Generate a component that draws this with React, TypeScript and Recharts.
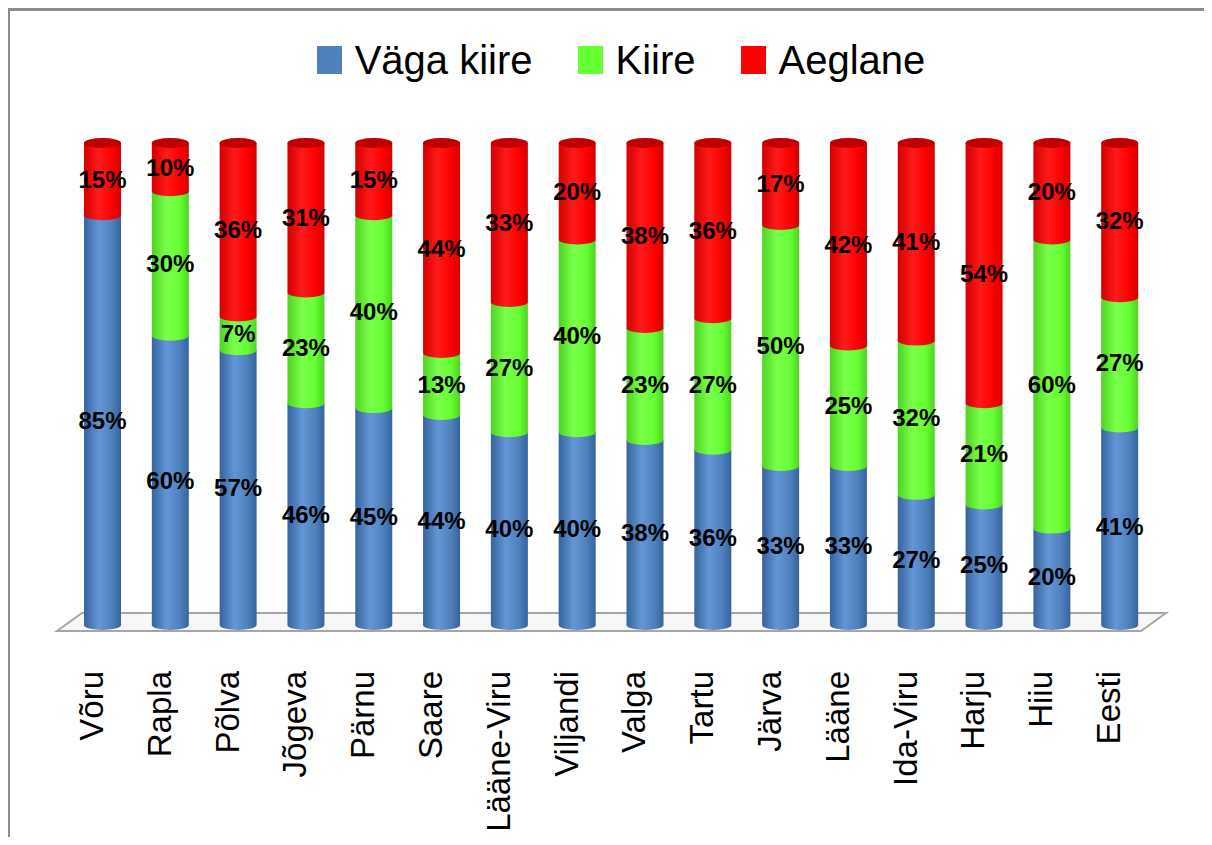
import React from 'react';
import { BarChart, Bar, XAxis, YAxis, Legend, LabelList, usePlotArea } from 'recharts';

const counties = [
  'Võru', 'Rapla', 'Põlva', 'Jõgeva', 'Pärnu', 'Saare', 'Lääne-Viru', 'Viljandi',
  'Valga', 'Tartu', 'Järva', 'Lääne', 'Ida-Viru', 'Harju', 'Hiiu', 'Eesti',
];
const vagaKiire = [85, 60, 57, 46, 45, 44, 40, 40, 38, 36, 33, 33, 27, 25, 20, 41];
const kiire = [0, 30, 7, 23, 40, 13, 27, 40, 23, 27, 50, 25, 32, 21, 60, 27];
const aeglane = [15, 10, 36, 31, 15, 44, 33, 20, 38, 36, 17, 42, 41, 54, 20, 32];

const seriesInfo = [
  { key: 'vagaKiire', name: 'Väga kiire', color: '#4F81BD', dark: '#35649e', light: '#6396d6' },
  { key: 'kiire', name: 'Kiire', color: '#66FF33', dark: '#4ed322', light: '#7aff4a' },
  { key: 'aeglane', name: 'Aeglane', color: '#FF0000', dark: '#d40000', light: '#ff1a1a' },
];

const data = counties.map((name, i) => ({
  name,
  vagaKiire: vagaKiire[i],
  kiire: kiire[i],
  aeglane: aeglane[i],
}));

const FONT = '"Liberation Sans", Arial, sans-serif';

const cylinder = (gradId: string, isTop: boolean, capColor: string) => (props: any) => {
  const { x, y, width, height } = props;
  if (!height || height <= 0) return <g />;
  const rx = width / 2;
  const ry = 5;
  const d = `M${x},${y} L${x},${y + height} A${rx},${ry} 0 0 0 ${x + width},${y + height} L${x + width},${y} Z`;
  return (
    <g>
      <path d={d} fill={`url(#${gradId})`} />
      {isTop && <ellipse cx={x + rx} cy={y} rx={rx} ry={ry} fill={capColor} />}
    </g>
  );
};

const Floor = () => {
  const area = usePlotArea();
  if (!area) return null;
  const bottom = area.y + area.height;
  const l = area.x;
  const r = area.x + area.width;
  const pts = `${l - 12},${bottom + 6} ${l + 13},${bottom - 12} ${r + 12},${bottom - 12} ${r - 13},${bottom + 6}`;
  return (
    <g>
      <polygon points={pts} fill="#f7f7f7" stroke="#a6a6a6" strokeWidth={2} />
    </g>
  );
};

const CountyTick = (props: any) => {
  const { x, y, payload } = props;
  const ty = y + 38;
  return (
    <text
      x={x}
      y={ty}
      transform={`rotate(-90, ${x}, ${ty})`}
      textAnchor="end"
      fontFamily={FONT}
      fontSize={33}
      fill="#000"
    >
      {payload.value}
    </text>
  );
};

const LegendContent = () => (
  <div style={{ display: 'flex', justifyContent: 'center', alignItems: 'center', height: 40, paddingLeft: 30 }}>
    {seriesInfo.map((s, i) => (
      <div key={s.key} style={{ display: 'flex', alignItems: 'center', marginLeft: i === 0 ? 0 : 45 }}>
        <div style={{ width: 25, height: 28, background: s.color, marginRight: 13 }} />
        <span style={{ fontFamily: FONT, fontSize: 40, color: '#000', lineHeight: '40px' }}>{s.name}</span>
      </div>
    ))}
  </div>
);

const fmt = (v: any) => (v ? `${v}%` : '');

export default function App() {
  return (
    <div style={{ position: 'relative', width: 1196, height: 829 }}>
      <style>{'html,body{overflow:hidden}'}</style>
      <div style={{ position: 'absolute', left: -8, top: -8 }}>
        <BarChart
          width={1212}
          height={845}
          data={data}
          stackOffset="expand"
          barSize={37}
          margin={{ top: 103, right: 58, bottom: 70, left: 69 }}
        >
          <defs>
            {seriesInfo.map(s => (
              <linearGradient key={s.key} id={`g-${s.key}`} x1="0" y1="0" x2="1" y2="0">
                <stop offset="0%" stopColor={s.dark} />
                <stop offset="40%" stopColor={s.light} />
                <stop offset="75%" stopColor={s.color} />
                <stop offset="100%" stopColor={s.dark} />
              </linearGradient>
            ))}
          </defs>
          <Floor />
          <XAxis
            dataKey="name"
            interval={0}
            axisLine={false}
            tickLine={false}
            height={150}
            tick={<CountyTick />}
          />
          <YAxis hide domain={[0, 1]} />
          <Legend
            verticalAlign="top"
            content={<LegendContent />}
            wrapperStyle={{ top: 40, left: 0, width: 1212, height: 40 }}
          />
          {seriesInfo.map((s, i) => (
            <Bar
              key={s.key}
              dataKey={s.key}
              name={s.name}
              stackId="a"
              fill={s.color}
              isAnimationActive={false}
              shape={cylinder(`g-${s.key}`, i === seriesInfo.length - 1, '#c00000')}
            >
              <LabelList
                dataKey={s.key}
                position="center"
                formatter={fmt}
                fill="#000"
                fontFamily={FONT}
                fontWeight="bold"
                fontSize={24}
              />
            </Bar>
          ))}
        </BarChart>
      </div>
      <div
        style={{
          position: 'absolute', left: -1, top: 0, width: 1205, height: 845,
          borderTop: '3px solid #8c8c8c', borderLeft: '3px solid #8c8c8c',
          boxSizing: 'border-box', pointerEvents: 'none',
        }}
      />
    </div>
  );
}
